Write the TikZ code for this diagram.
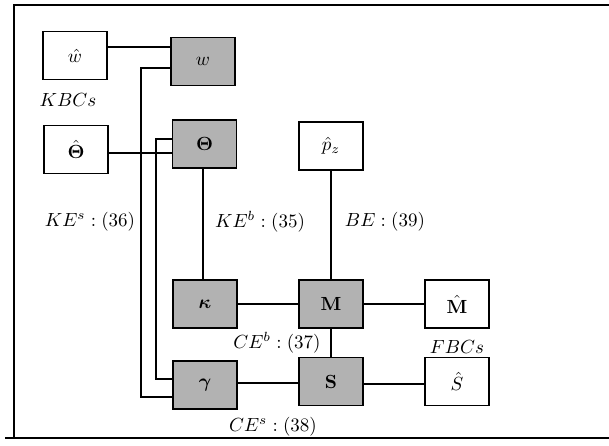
\documentclass[tikz,border=0pt]{standalone}
\usepackage{amsmath,amssymb}
\usetikzlibrary{calc}
% math set at the size used throughout the chart
\newcommand{\chartmath}[1]{\scalebox{1.9}{$#1$}}
\begin{document}
\begin{tikzpicture}[x=1pt,y=-1pt,
  varbox/.style={draw=black,line width=1.6pt,minimum width=64pt,minimum height=48pt,inner sep=0pt,fill=white},
  unkbox/.style={varbox,fill=black!30},
  lbl/.style={inner sep=1pt},
  link/.style={line width=1.9pt},
  frameline/.style={line width=1.6pt}]
\useasboundingbox (0,0) rectangle (609,446);
% page frame
\draw[frameline] (609,5) -- (14,5) -- (14,438);
\draw[frameline] (5,438) -- (609,438);
% boxes
\node[varbox] (what) at (75,55.5) {\chartmath{\hat{w}}};
\node[unkbox] (w) at (203,61.5) {\chartmath{w}};
\node[varbox] (thetahat) at (76,149.5) {\chartmath{\hat{\boldsymbol{\Theta}}}};
\node[unkbox] (theta) at (204.5,144) {\chartmath{\boldsymbol{\Theta}}};
\node[varbox] (pz) at (331,146) {\chartmath{\hat{p}_z}};
\node[unkbox] (kappa) at (205,304) {\chartmath{\boldsymbol{\kappa}}};
\node[unkbox] (M) at (331,304) {\chartmath{\mathbf{M}}};
\node[varbox] (Mhat) at (457,304) {\chartmath{\hat{\mathbf{M}}}};
\node[unkbox] (gamma) at (205,385) {\chartmath{\boldsymbol{\gamma}}};
\node[unkbox] (S) at (331,381.5) {\chartmath{\mathbf{S}}};
\node[varbox] (Shat) at (457,381.5) {\chartmath{\hat{S}}};
% labels
\node[lbl] (kbc) at (68,100) {\chartmath{KBCs}};
\node[lbl] (fbc) at (457,347) {\chartmath{FBCs}};
\node[lbl] (kes) at (90,222) {\chartmath{KE^s:(36)}};
\node[lbl] (keb) at (260,222) {\chartmath{KE^b:(35)}};
\node[lbl] (be) at (385,222) {\chartmath{BE:(39)}};
\node[lbl] (ceb) at (277,343) {\chartmath{CE^b:(37)}};
\node[lbl] (ces) at (273,427) {\chartmath{CE^s:(38)}};
% connector end points
\coordinate (wa) at ([yshift=8.5pt]what.east);
\coordinate (wb) at ([yshift=-6.5pt]w.west);
\coordinate (ga) at ([yshift=-12pt]gamma.west);
\coordinate (ta) at ([yshift=-3.5pt]thetahat.east);
\coordinate (tb) at ([yshift=5pt]theta.west);
\coordinate (gb) at ([yshift=6pt]gamma.west);
\coordinate (tc) at ([xshift=-1.5pt]theta.south);
\coordinate (gc) at ([yshift=2pt]gamma.east);
\coordinate (sc) at ([yshift=-2.5pt]S.east);
% connectors
\draw[link] (wa) -- (wa -| w.west);
\draw[link] (wb) -- ++(-29,0) |- (ga);
\draw[link] (ta) -- (ta -| theta.west);
\draw[link] (tb) -- ++(-16,0) |- (gb);
\draw[link] (tc) -- (tc |- kappa.north);
\draw[link] (pz.south) -- (pz.south |- M.north);
\draw[link] (kappa.east) -- (kappa.east -| M.west);
\draw[link] (M.south) -- (M.south |- S.north);
\draw[link] (M.east) -- (M.east -| Mhat.west);
\draw[link] (gc) -- (gc -| S.west);
\draw[link] (sc) -- (sc -| Shat.west);
\end{tikzpicture}
\end{document}
